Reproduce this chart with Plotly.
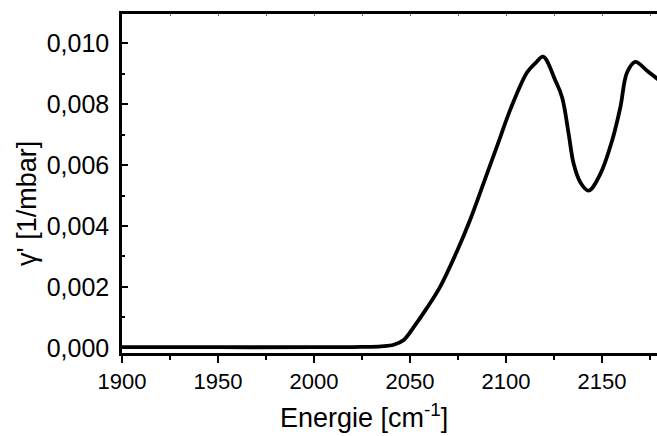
import plotly.graph_objects as go

# Absorption coefficient gamma' versus energy
energie = [1900, 1950, 2000, 2025, 2035, 2041.5, 2046.7, 2051.9, 2058.9, 2065.8,
           2074.5, 2081.4, 2090.1, 2097.0, 2102.2, 2110.9, 2115.3, 2119.3, 2125.7,
           2129.2, 2132.6, 2135.2, 2138.7, 2143.0, 2149.1, 2155.2, 2159.5, 2163.0,
           2167.3, 2173.4, 2180.0]
gamma = [0.00002, 0.00002, 0.00002, 0.00003, 0.00005, 0.00010, 0.00026, 0.00068,
         0.00132, 0.00202, 0.00318, 0.00422, 0.00572, 0.00692, 0.00782, 0.00904,
         0.00935, 0.00956, 0.00877, 0.00822, 0.00702, 0.00604, 0.00543, 0.00516,
         0.00571, 0.00680, 0.00789, 0.00904, 0.00939, 0.00910, 0.00877]

x_ticks = [1900, 1950, 2000, 2050, 2100, 2150]
y_ticks = [0.000, 0.002, 0.004, 0.006, 0.008, 0.010]

FONT = "Liberation Sans, Arial, sans-serif"

fig = go.Figure()
fig.add_trace(go.Scatter(
    x=energie, y=gamma, mode="lines",
    line=dict(color="black", width=3.8, shape="spline", smoothing=1.0),
    showlegend=False, hoverinfo="skip",
))
# invisible trace to activate the top axis
fig.add_trace(go.Scatter(x=[1900], y=[0], xaxis="x2", mode="markers",
                         marker=dict(opacity=0), showlegend=False, hoverinfo="skip"))

fig.update_layout(
    width=657, height=436,
    margin=dict(l=122, r=0, t=14, b=83),
    paper_bgcolor="white", plot_bgcolor="white",
    separators=",.",
    font=dict(family=FONT, color="black"),
    xaxis=dict(
        range=[1900, 2178.6], tickvals=x_ticks, tickfont=dict(size=22),
        ticks="outside", ticklen=7, tickwidth=2, tickcolor="black",
        minor=dict(dtick=25, tick0=1900, ticks="outside", ticklen=4,
                   tickwidth=2, tickcolor="black"),
        showline=True, linecolor="black", linewidth=2.5,
        showgrid=False, zeroline=False,
    ),
    xaxis2=dict(
        overlaying="x", side="top", range=[1900, 2178.6],
        tickvals=[1925 + 25 * i for i in range(11)], showticklabels=False,
        ticks="inside", ticklen=2, tickwidth=1, tickcolor="#666",
        showline=True, linecolor="black", linewidth=2.5,
        showgrid=False, zeroline=False,
    ),
    yaxis=dict(
        range=[-0.00017, 0.01096], tickvals=y_ticks, tickformat=".3f",
        tickfont=dict(size=25),
        ticks="inside", ticklen=6, tickwidth=2, tickcolor="black",
        minor=dict(dtick=0.001, tick0=0, ticks="inside", ticklen=3,
                   tickwidth=2, tickcolor="black"),
        showline=True, linecolor="black", linewidth=2.5,
        showgrid=False, zeroline=False, ticklabelstandoff=5,
    ),
)

fig.add_annotation(
    text="Energie [cm<sup>-1</sup>]", xref="paper", yref="paper",
    x=(364 - 122) / 535, y=-(416 - 353) / 339, xanchor="center", yanchor="middle",
    showarrow=False, font=dict(size=27),
)
fig.add_annotation(
    text="γ' [1/mbar]", xref="paper", yref="paper",
    x=-(122 - 27) / 535, y=(353 - 204) / 339, xanchor="center", yanchor="middle",
    textangle=-90, showarrow=False, font=dict(size=27),
)

fig.write_html("out.html")
